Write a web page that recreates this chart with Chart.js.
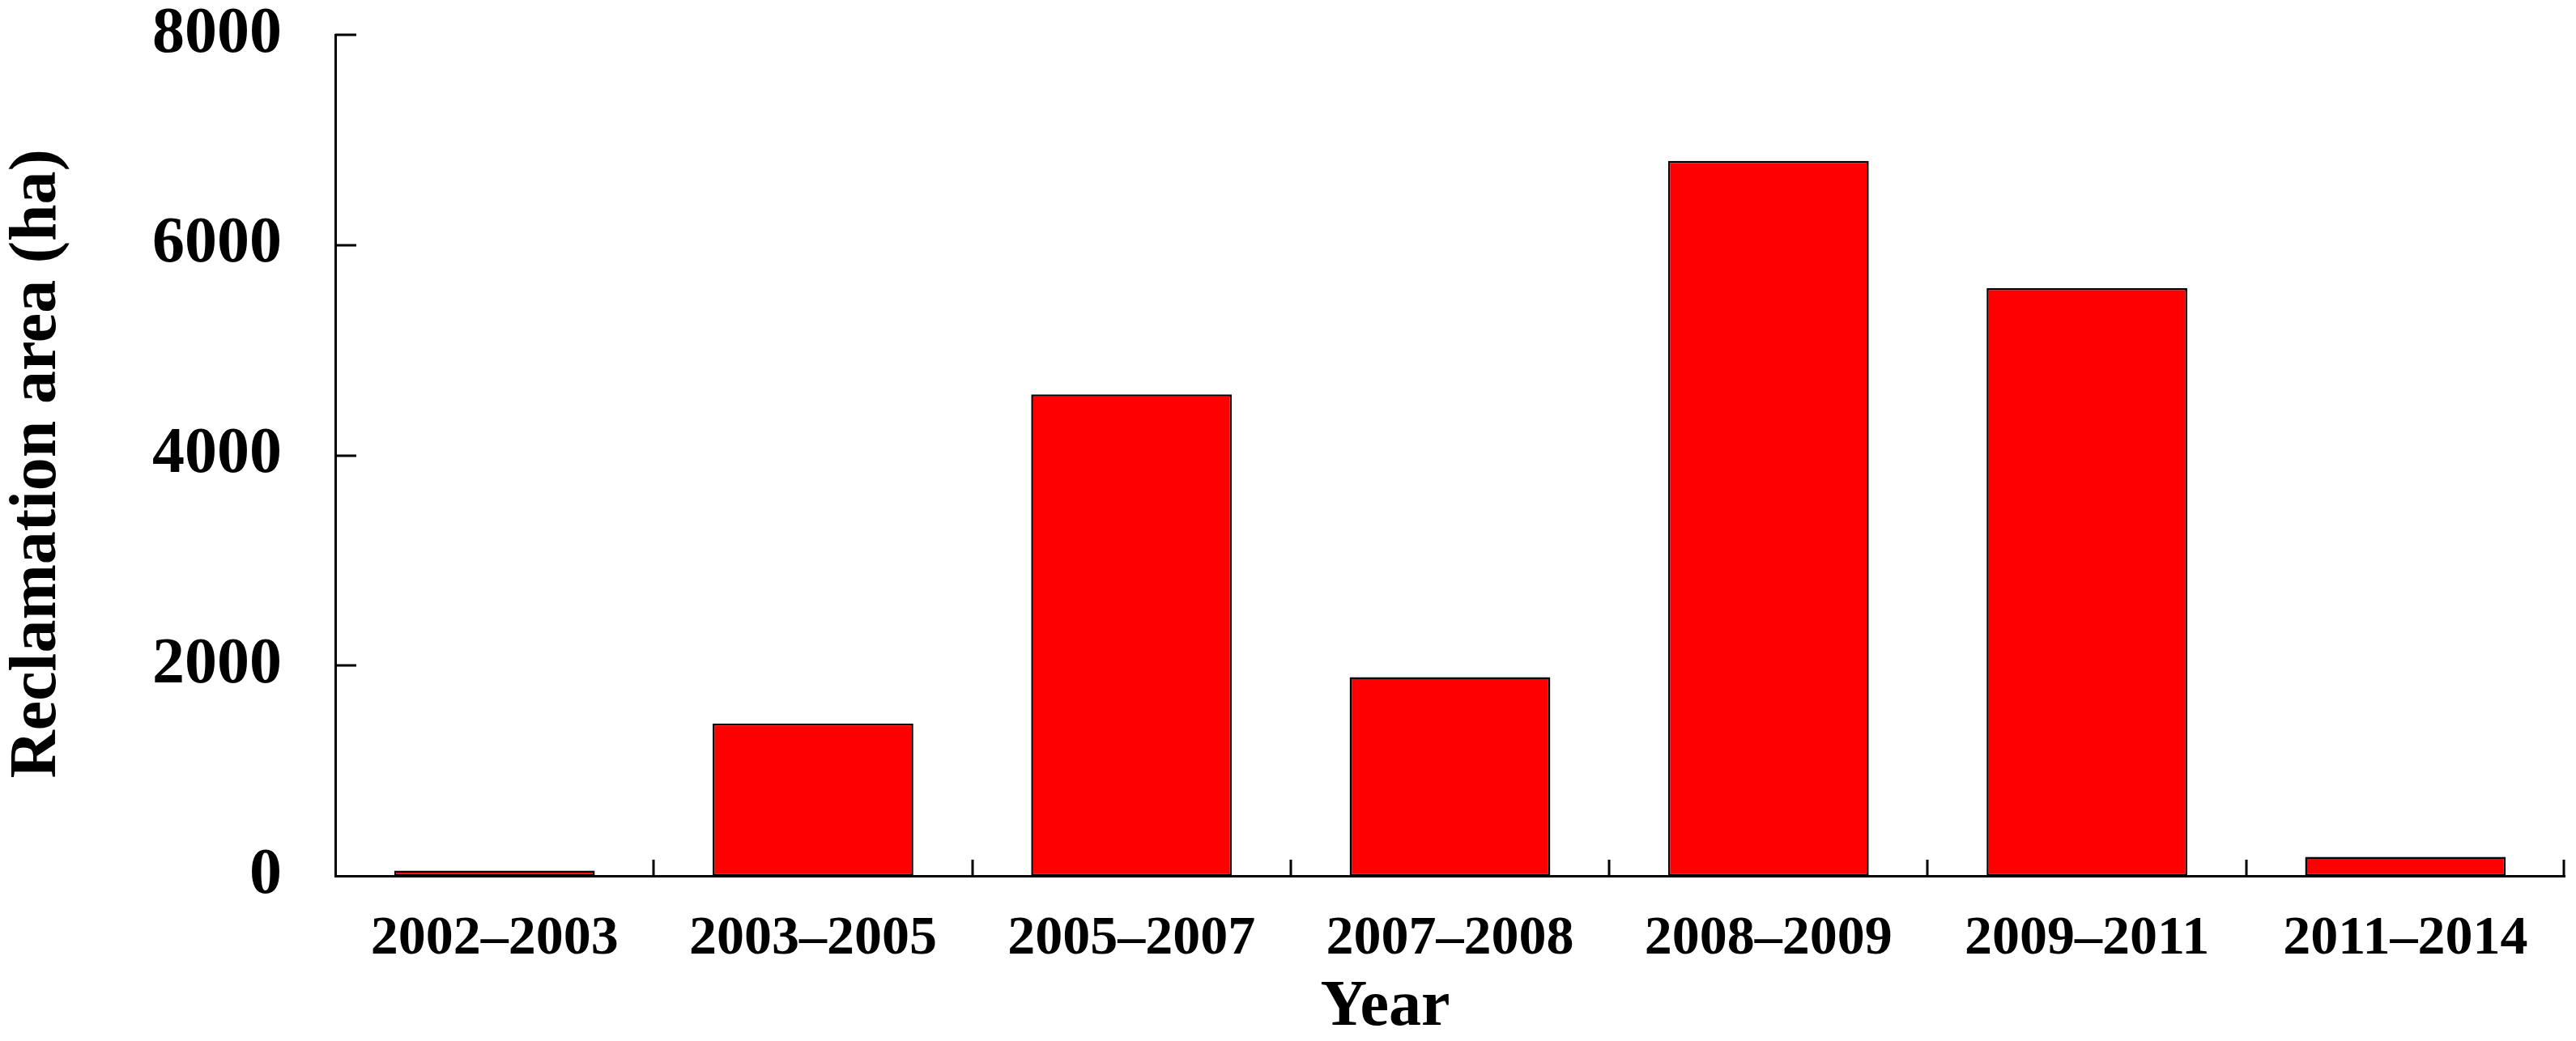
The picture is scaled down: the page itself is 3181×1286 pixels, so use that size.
<!doctype html>
<html lang="en">
    <head>
        <meta charset="UTF-8" />
        <title>Reclamation area by period</title>
        <script src="https://cdn.jsdelivr.net/npm/chart.js"></script>
        <style>
            html, body { margin: 0; padding: 0; background: #fff; }
            #wrap { width: 3181px; height: 1286px; }
        </style>
    </head>

    <body>
        <div id="wrap"><canvas id="reclamationChart"></canvas></div>
        <script>
            // values
            const periods = ['2002\u20132003', '2003\u20132005', '2005\u20132007', '2007\u20132008', '2008\u20132009', '2009\u20132011', '2011\u20132014']
            const reclamationArea = [50, 1450, 4580, 1890, 6800, 5590, 180]
            const yTicks = [0, 2000, 4000, 6000, 8000]

            const serif = '"Liberation Serif", "Times New Roman", serif'

            // inward tick marks like the original figure
            const innerTicks = {
                id: 'innerTicks',
                afterDatasetsDraw(chart) {
                    const { ctx, chartArea, scales } = chart
                    const x = scales.x
                    const y = scales.y
                    ctx.save()
                    ctx.strokeStyle = '#000'
                    ctx.lineWidth = 3
                    ctx.beginPath()
                    yTicks.forEach((v) => {
                        const py = Math.round(y.getPixelForValue(v))
                        if (v === 0) return
                        ctx.moveTo(chartArea.left, py)
                        ctx.lineTo(chartArea.left + 26, py)
                    })
                    for (let i = 0; i < periods.length; i++) {
                        let px
                        if (i < periods.length - 1) {
                            px = (x.getPixelForValue(i) + x.getPixelForValue(i + 1)) / 2
                        } else {
                            px = chartArea.right - 1.5
                        }
                        px = Math.round(px)
                        ctx.moveTo(px, chartArea.bottom)
                        ctx.lineTo(px, chartArea.bottom - 20)
                    }
                    ctx.stroke()
                    ctx.restore()
                },
            }

            const ctx = document.getElementById('reclamationChart').getContext('2d')
            new Chart(ctx, {
                type: 'bar',
                data: {
                    labels: periods,
                    datasets: [
                        {
                            label: 'Reclamation area (ha)',
                            data: reclamationArea,
                            backgroundColor: '#ff0000',
                            borderColor: '#000000',
                            borderWidth: 2.5,
                            borderSkipped: false,
                            categoryPercentage: 1.0,
                            barPercentage: 0.63,
                        },
                    ],
                },
                options: {
                    responsive: true,
                    maintainAspectRatio: false,
                    animation: false,
                    layout: {
                        padding: { top: 43, right: 14, bottom: 0, left: 0 },
                    },
                    plugins: {
                        legend: { display: false },
                        tooltip: { enabled: false },
                    },
                    scales: {
                        x: {
                            offset: true,
                            grid: { display: false, drawTicks: false },
                            border: { display: true, color: '#000', width: 3 },
                            ticks: {
                                color: '#000',
                                padding: 44,
                                maxRotation: 0,
                                autoSkip: false,
                                font: { family: serif, size: 68, weight: 'bold', lineHeight: 1 },
                            },
                            title: {
                                display: true,
                                text: 'Year\u2002\u2002\u2002\u2002',
                                color: '#000',
                                padding: { top: 0, bottom: 1 },
                                font: { family: serif, size: 80, weight: 'bold', lineHeight: 1 },
                            },
                            afterFit(scale) {
                                scale.height = 204
                            },
                        },
                        y: {
                            min: 0,
                            max: 8000,
                            grid: { display: false, drawTicks: false },
                            border: { display: true, color: '#000', width: 3 },
                            afterBuildTicks(scale) {
                                scale.ticks = yTicks.map((v) => ({ value: v }))
                            },
                            ticks: {
                                color: '#000',
                                padding: 66,
                                callback: (v) => String(v),
                                font: { family: serif, size: 80, weight: 'bold', lineHeight: 1 },
                            },
                            title: {
                                display: true,
                                text: 'Reclamation area (ha)\u00a0',
                                color: '#000',
                                padding: { top: 6, bottom: 0 },
                                font: { family: serif, size: 82, weight: 'bold', lineHeight: 1 },
                            },
                            afterFit(scale) {
                                scale.width = 414
                                // tick padding is horizontal here, keep it out of the top/bottom margin
                                scale.paddingTop = 0
                                scale.paddingBottom = 0
                            },
                        },
                    },
                },
                plugins: [innerTicks],
            })
        </script>
    </body>
</html>
